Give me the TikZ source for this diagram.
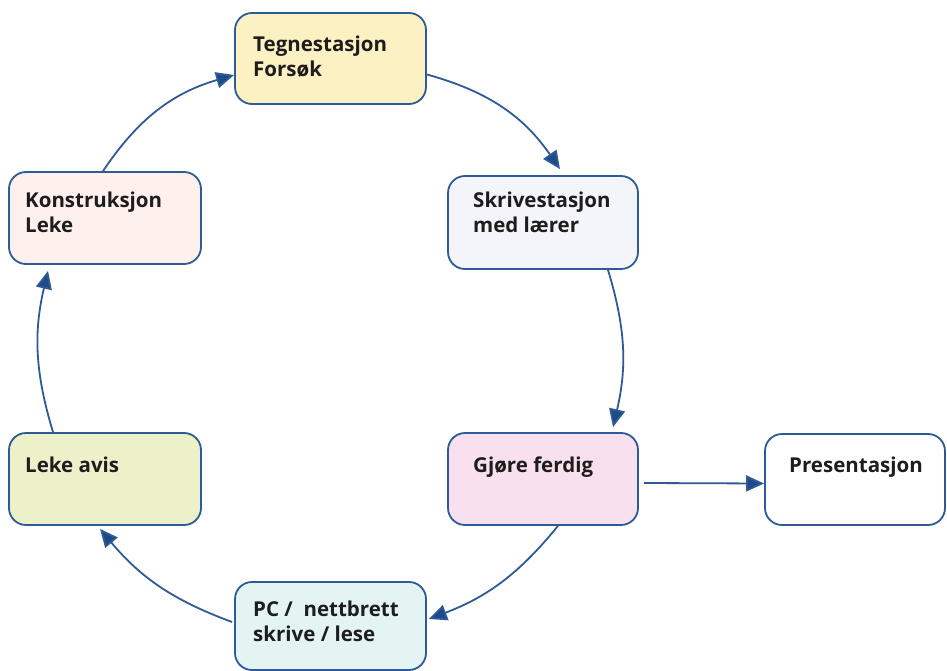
\documentclass[tikz,border=0pt]{standalone}
\usepackage{fontspec}
\setmainfont{Open Sans}
\usetikzlibrary{arrows.meta}
\definecolor{edge}{HTML}{2E5A96}
\definecolor{tip}{HTML}{1E4A8A}
\definecolor{ink}{HTML}{1E1C1D}
\definecolor{cT}{HTML}{FBF1C2}
\definecolor{cS}{HTML}{F3F5FA}
\definecolor{cK}{HTML}{FEF1ED}
\definecolor{cG}{HTML}{F8E0EE}
\definecolor{cL}{HTML}{EDF1CA}
\definecolor{cP}{HTML}{E3F4F3}
\tikzset{
  box/.style={draw=edge, line width=1.8pt, rounded corners=17pt, rectangle, inner sep=0pt},
  lbl/.style={anchor=base west, inner sep=0pt, text=ink, align=left,
              font=\fontsize{20.5pt}{25pt}\selectfont\bfseries},
  arr/.style={draw=edge, line width=1.8pt, -{Triangle[length=18pt,width=16pt,fill=tip]}},
}
\begin{document}
\begin{tikzpicture}[x=1pt,y=-1pt]
\useasboundingbox (0,0) rectangle (947,671);
% boxes
\node[box, fill=cT, minimum width=191pt, minimum height=91pt] (t) at (330.5,58.5) {};
\node[box, fill=cS, minimum width=190pt, minimum height=93pt] (s) at (543,222.5) {};
\node[box, fill=cK, minimum width=192pt, minimum height=92pt] (k) at (105,218) {};
\node[box, fill=cG, minimum width=190pt, minimum height=92pt] (g) at (543,479) {};
\node[box, fill=white, minimum width=180pt, minimum height=91pt] (p) at (855,479.5) {};
\node[box, fill=cL, minimum width=192pt, minimum height=92pt] (l) at (105,479) {};
\node[box, fill=cP, minimum width=191pt, minimum height=88pt] (c) at (330.5,626) {};
% labels (base anchor = last line's baseline)
\node[lbl] (tl) at (253,77) {Tegnestasjon\\Forsøk};
\node[lbl] (sl) at (473,233) {Skrivestasjon\\med lærer};
\node[lbl] (kl) at (25,233) {Konstruksjon\\Leke};
\node[lbl] (gl) at (473,472) {Gjøre ferdig};
\node[lbl] (pl) at (789,472) {Presentasjon};
\node[lbl] (ll) at (25,472) {Leke avis};
\node[lbl] (cl) at (253,641) {PC /\ \ nettbrett\\skrive / lese};
% connectors
\draw[arr] ([yshift=-16pt]t.east) to[bend left=20] ([xshift=17pt,yshift=6pt]s.north);
\draw[arr] ([xshift=65pt]s.south) to[bend left=15] ([xshift=70pt,yshift=5pt]g.north);
\draw[arr] ([xshift=15pt]g.south) to[bend left=15] ([xshift=2pt,yshift=7pt]c.east);
\draw[arr] ([xshift=-2pt,yshift=4pt]c.west) to[bend left=15] ([xshift=-5pt,yshift=-3pt]l.south);
\draw[arr] ([xshift=-52pt]l.north) to[bend left=15] ([xshift=-57pt,yshift=-6pt]k.south);
\draw[arr] ([xshift=-2pt]k.north) to[bend left=20] ([yshift=-16.5pt]t.west);
\draw[arr] ([xshift=5pt,yshift=-4pt]g.east) -- ([yshift=-4pt]p.west);
\end{tikzpicture}
\end{document}
